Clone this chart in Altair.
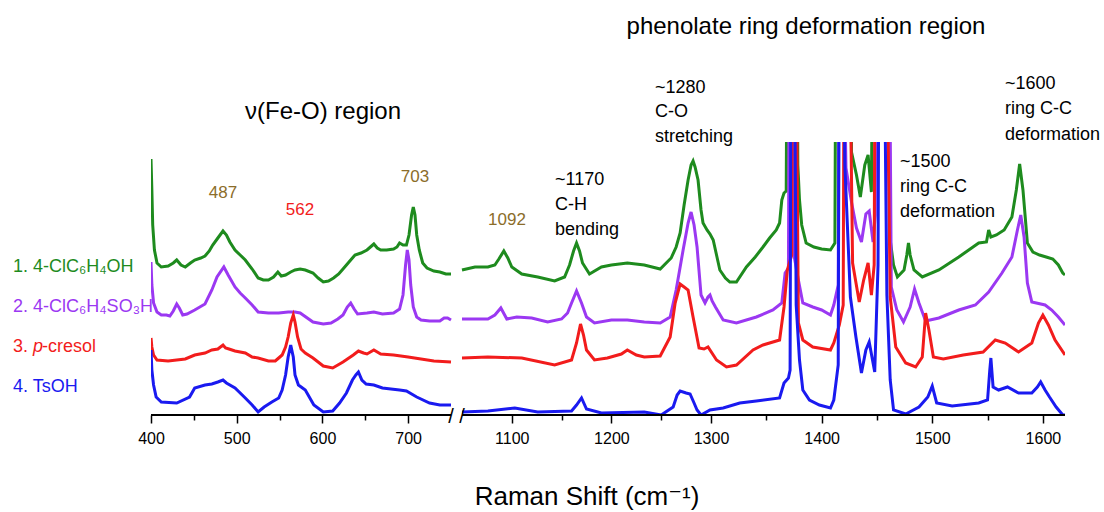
import altair as alt
import pandas as pd

# ---------------- data (intensity = arbitrary offset units) ----------------
green_low = [(400, 256), (401, 225), (402, 190), (404, 165), (407, 152), (412, 148), (420, 149), (426, 152),
             (430, 155), (435, 150), (440, 148), (446, 152), (451, 155), (458, 157), (463, 159), (468, 164),
             (472, 170), (478, 177), (484, 184), (488, 180), (492, 173), (498, 165), (504, 160), (510, 155),
             (518, 146), (525, 137), (531, 135), (537, 135), (543, 138), (548, 143), (552, 139), (557, 140),
             (563, 143), (568, 145), (574, 146), (580, 145), (589, 142), (595, 137), (601, 133), (607, 134),
             (613, 137), (619, 141), (624, 146), (631, 153), (638, 160), (645, 162), (652, 165), (656, 168),
             (660, 171), (664, 167), (668, 165), (675, 165), (683, 166), (687, 168), (690, 172), (694, 170),
             (698, 170), (701, 180), (704, 200), (706, 208), (708, 200), (710, 180), (713, 165), (717, 152),
             (722, 147), (730, 144), (737, 143), (744, 141), (750, 141)]
green_high = [(1050, 145), (1063, 148), (1076, 148), (1083, 150), (1087, 156), (1092, 164), (1096, 157),
              (1100, 148), (1110, 141), (1126, 138), (1143, 134), (1153, 138), (1158, 150), (1162, 164),
              (1165, 172), (1168, 164), (1171, 152), (1178, 141), (1190, 148), (1200, 150), (1216, 152),
              (1233, 150), (1249, 146), (1260, 157), (1265, 168), (1269, 182), (1273, 210), (1277, 235),
              (1280, 250), (1282, 254), (1284, 248), (1287, 235), (1290, 205), (1292, 192), (1296, 185),
              (1299, 181), (1302, 175), (1305, 160), (1308, 145), (1313, 137), (1317, 133), (1323, 133),
              (1332, 148), (1340, 158), (1347, 168), (1353, 177), (1359, 185), (1362, 192), (1364, 215),
              (1366, 222), (1368, 224), (1369, 450), (1377.5, 450), (1378.5, 250), (1380, 215), (1382, 190),
              (1386, 172), (1393, 168), (1400, 166), (1408, 165), (1412, 172), (1413, 450), (1426, 450),
              (1427, 263), (1431.5, 240), (1435, 218), (1439, 250), (1442, 260), (1445, 223), (1446.5, 450),
              (1460, 450), (1462, 175), (1465, 150), (1468.5, 138), (1474.5, 145), (1477, 160), (1478.5, 172),
              (1480, 160), (1483.5, 145), (1491, 138), (1506, 145), (1524, 158), (1542, 172), (1549, 173),
              (1551, 185), (1553, 178), (1558, 180), (1565, 185), (1572, 198), (1576, 225), (1579, 251),
              (1582, 225), (1586, 172), (1591, 163), (1597, 160), (1603, 158), (1609, 156), (1614, 150),
              (1618, 142), (1620, 140)]

purple_low = [(400, 153), (401, 130), (403, 112), (407, 103), (412, 100), (418, 100), (422, 99), (426, 104),
              (430, 111), (433, 107), (437, 100), (442, 101), (451, 105), (463, 111), (471, 125), (477, 138),
              (485, 148), (490, 140), (498, 128), (504, 122), (510, 117), (518, 110), (525, 103), (537, 102),
              (549, 102), (560, 103), (568, 103), (574, 102), (589, 93), (601, 91), (610, 92), (618, 96),
              (624, 100), (629, 108), (633, 112), (637, 106), (641, 101), (652, 102), (660, 103), (670, 101),
              (683, 102), (690, 106), (694, 120), (697, 150), (699, 165), (701, 155), (703, 130), (706, 108),
              (710, 98), (715, 95), (725, 94), (737, 94), (742, 97), (746, 97), (750, 95)]
purple_high = [(1050, 96), (1076, 96), (1083, 100), (1089, 107), (1095, 96), (1105, 98), (1120, 97),
               (1136, 93), (1150, 96), (1156, 102), (1160, 112), (1165, 124), (1170, 112), (1175, 98),
               (1183, 92), (1200, 95), (1216, 95), (1233, 93), (1249, 92), (1259, 98), (1265, 125),
               (1272, 165), (1277, 192), (1280, 203), (1283, 190), (1286, 168), (1290, 120), (1294, 112),
               (1297, 118), (1299, 120), (1301, 114), (1304, 108), (1311, 95), (1323, 92), (1341, 98),
               (1356, 105), (1364, 112), (1367, 142), (1370, 147), (1371, 450), (1373.5, 450), (1375, 160),
               (1379, 135), (1383, 112), (1392, 108), (1400, 105), (1408, 100), (1411, 110), (1415, 130),
               (1416, 450), (1419, 450), (1422, 247), (1427, 213), (1431.5, 187), (1436, 173), (1440, 201),
               (1443, 204), (1446.5, 173), (1448.5, 200), (1449.5, 450), (1461, 450), (1463, 128), (1468, 105),
               (1474, 93), (1480, 108), (1484, 126), (1488, 112), (1494, 94), (1506, 97), (1524, 105),
               (1539, 110), (1551, 123), (1563, 142), (1572, 158), (1577, 185), (1580, 200), (1583, 178),
               (1586, 132), (1590, 113), (1602, 110), (1608, 105), (1614, 98), (1620, 90)]

red_low = [(400, 77), (401, 68), (403, 60), (407, 55), (420, 54), (430, 55), (440, 56), (451, 60), (463, 62),
           (471, 65), (478, 66), (484, 70), (487, 67), (491, 66), (498, 64), (510, 62), (518, 58), (525, 57),
           (537, 54), (545, 54), (549, 57), (553, 60), (557, 68), (560, 78), (563, 92), (566, 100), (568, 93),
           (571, 78), (575, 66), (580, 62), (589, 57), (601, 49), (612, 47), (624, 53), (636, 60), (642, 64),
           (648, 62), (652, 61), (660, 65), (668, 61), (683, 60), (700, 58), (715, 56), (730, 54), (750, 53)]
red_high = [(1050, 57), (1076, 58), (1110, 57), (1143, 50), (1160, 55), (1165, 72), (1169, 91), (1172, 80),
            (1175, 65), (1183, 55), (1196, 57), (1210, 61), (1216, 65), (1225, 60), (1233, 58), (1249, 59),
            (1259, 78), (1264, 112), (1269, 131), (1273, 128), (1277, 125), (1282, 98), (1288, 67), (1293, 66),
            (1297, 68), (1305, 55), (1314, 48), (1323, 50), (1338, 65), (1347, 70), (1362, 75), (1366, 108),
            (1369, 145), (1373, 160), (1374, 450), (1376.5, 450), (1379, 92), (1383, 75), (1392, 68),
            (1408, 65), (1411, 72), (1416, 90), (1419.5, 110), (1420.5, 450), (1424.5, 450), (1428, 152),
            (1434, 113), (1438, 135), (1442, 152), (1445, 120), (1447.5, 150), (1448.5, 450), (1458, 450),
            (1462, 118), (1467, 68), (1476, 52), (1485, 48), (1491, 58), (1494, 102), (1497, 85), (1501, 58),
            (1510, 56), (1528, 60), (1546, 63), (1557, 75), (1566, 72), (1578, 63), (1590, 72), (1596, 92),
            (1600, 100), (1605, 90), (1611, 75), (1620, 60)]

blue_low = [(400, 65), (401, 45), (403, 30), (406, 18), (412, 13), (430, 12), (445, 18), (451, 27), (463, 30),
            (471, 31), (478, 33), (484, 35), (488, 32), (498, 27), (510, 17), (518, 10), (525, 3), (532, 8),
            (541, 13), (549, 17), (553, 25), (557, 40), (560, 58), (563, 70), (566, 58), (568, 40), (572, 30),
            (580, 25), (590, 10), (601, 3), (612, 4), (620, 12), (628, 22), (635, 35), (639, 40), (642, 43),
            (646, 35), (651, 31), (660, 30), (670, 27), (690, 25), (698, 24), (710, 18), (725, 12), (737, 10),
            (750, 10)]
blue_high = [(1050, 3), (1076, 4), (1103, 7), (1126, 3), (1160, 4), (1165, 10), (1170, 17), (1175, 6),
             (1190, 2), (1233, 3), (1250, 0), (1262, 8), (1266, 20), (1269, 24), (1275, 22), (1279, 21),
             (1283, 12), (1286, 5), (1290, 0), (1299, 5), (1311, 7), (1326, 12), (1341, 14), (1362, 17),
             (1366, 32), (1370, 37), (1371.5, 45), (1372.5, 450), (1375, 450), (1377, 110), (1380, 55),
             (1383, 25), (1389, 15), (1398, 10), (1408, 7), (1411, 15), (1415, 50), (1416, 450), (1419, 450),
             (1421, 250), (1426, 118), (1431, 78), (1436, 42), (1440, 65), (1443, 73), (1446, 55), (1448, 43),
             (1451, 150), (1452, 450), (1456, 450), (1459, 120), (1462, 35), (1465, 5), (1476, 1), (1488, 8),
             (1496, 18), (1500, 29), (1504, 12), (1518, 9), (1542, 12), (1550, 15), (1552, 45), (1553, 57),
             (1555, 28), (1560, 25), (1568, 28), (1578, 22), (1590, 22), (1595, 28), (1598, 33), (1602, 25),
             (1606, 18), (1612, 8), (1618, 0), (1620, 0)]

series_keys = ["green", "purple", "red", "blue"]
series_colors = ["#1E8B1E", "#9B38F2", "#F21C1C", "#1A1AF0"]
axis_segments_start = [400, 1050]
axis_segments_end = [750, 1620]
tick_values = [400, 450, 500, 550, 600, 650, 700,
               1100, 1150, 1200, 1250, 1300, 1350, 1400, 1450, 1500, 1550, 1600]

# ---------------- build table ----------------
rows = []
for key, segs in zip(series_keys, [(green_low, green_high), (purple_low, purple_high),
                                   (red_low, red_high), (blue_low, blue_high)]):
    for si, seg in enumerate(segs):
        for x, y in seg:
            rows.append({"series": key, "seg": f"{key}{si}", "shift": x, "intensity": y})
df = pd.DataFrame(rows)

W, H = 914, 273
xscale = alt.Scale(domain=[400, 750, 1050, 1300, 1620], range=[0, 300, 311, 560, 914], nice=False, zero=False)
yscale = alt.Scale(domain=[0, 273], nice=False, zero=False)
xaxis = alt.Axis(values=tick_values, title=None, domain=False, grid=False, ticks=True, format="d",
                 tickColor="black", tickWidth=1.5,
                 tickSize={"condition": {"test": "datum.value % 100 == 0", "value": 8}, "value": 5},
                 labelExpr="datum.value % 100 == 0 ? datum.label : ''",
                 labelFont="Liberation Sans, Arial", labelFontSize=16,
                 labelColor="black", labelPadding=7, labelFlush=False, labelOverlap=False)

X = alt.X("shift:Q", scale=xscale, axis=xaxis)

lines = alt.Chart(df).mark_line(strokeWidth=3, clip=True).encode(
    x=X,
    y=alt.Y("intensity:Q", scale=yscale, axis=None),
    color=alt.Color("series:N", scale=alt.Scale(domain=series_keys, range=series_colors), legend=None),
    detail="seg:N",
    order=alt.Order("shift:Q"),
)

axis_df = pd.DataFrame({"shift": axis_segments_start, "shift_end": axis_segments_end})
axis_lines = alt.Chart(axis_df).mark_rule(color="black", strokeWidth=2).encode(
    x=X, x2="shift_end:Q", y=alt.value(H))

break_df = pd.DataFrame({"shift": [750, 1050]})
breaks = alt.Chart(break_df).mark_text(text="/", fontSize=20, font="Liberation Sans", color="black",
                                       baseline="middle", align="center").encode(x=X, y=alt.value(H + 2))

FONT = "Liberation Sans, Arial, DejaVu Sans"


def txt(t, x, y, size=18, color="black", align="left", style="normal"):
    return alt.Chart(alt.Data(values=[{"k": 1}])).mark_text(
        text=t, fontSize=size, font=FONT, color=color, align=align, baseline="middle",
        fontStyle=style).encode(x=alt.value(x), y=alt.value(y))


olive = "#8B6D2A"
texts = [
    txt("ν(Fe-O) region", 172, -30, size=24, align="center"),
    txt("phenolate ring deformation region", 655, -115, size=24, align="center"),
    txt("487", 72, 51, size=17, color=olive, align="center"),
    txt("562", 149, 68, size=17, color="#F21C1C", align="center"),
    txt("703", 264, 35, size=17, color=olive, align="center"),
    txt("1092", 356, 78, size=17, color=olive, align="center"),
    txt("~1170", 404, 38), txt("C-H", 404, 63), txt("bending", 404, 88),
    txt("~1280", 504, -54), txt("C-O", 504, -30), txt("stretching", 504, -5),
    txt("~1500", 749, 20), txt("ring C-C", 749, 45), txt("deformation", 749, 70),
    txt("~1600", 854, -58), txt("ring C-C", 854, -33), txt("deformation", 854, -7),
    txt("1. 4-ClC₆H₄OH", -138, 125, color=series_colors[0]),
    txt("2. 4-ClC₆H₄SO₃H", -138, 165, color=series_colors[1]),
    txt("3. ", -138, 205, color=series_colors[2]),
    txt("p", -118, 205, color=series_colors[2], style="italic"),
    txt("-cresol", -109, 205, color=series_colors[2]),
    txt("4. TsOH", -138, 245, color=series_colors[3]),
    txt("Raman Shift (cm⁻¹)", 436, 355, size=26, align="center"),
]

chart = alt.layer(lines, axis_lines, breaks, *texts).properties(
    width=W, height=H,
    padding={"left": 151, "top": 142, "right": 1104 - 151 - W, "bottom": 512 - 142 - H},
    autosize=alt.AutoSizeParams(type="none"),
).configure_view(stroke=None)

chart.save("out.html", embed_options={"renderer": "svg", "actions": False})
